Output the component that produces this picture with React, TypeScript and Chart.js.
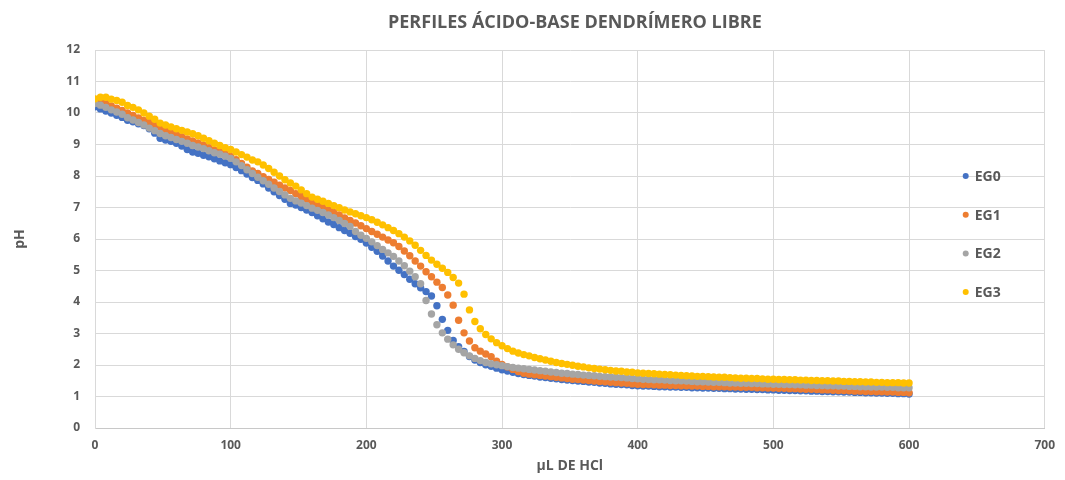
import { useEffect, useRef } from "react";
import { Chart, registerables } from "chart.js";

Chart.register(...registerables);

const FONT = "'Open Sans', sans-serif";
const TEXT_COLOR = "#595959";
const GRID_COLOR = "#D9D9D9";

const chartTitle = "PERFILES ÁCIDO-BASE DENDRÍMERO LIBRE";
const xTitle = "µL DE HCl";
const yTitle = "pH";

const seriesNames = ["EG0", "EG1", "EG2", "EG3"];
const seriesColors = ["#4472C4", "#ED7D31", "#A5A5A5", "#FFC000"];

// µL de HCl añadidos
const volumes = [
  0, 4, 8, 12, 16, 20, 24, 28, 32, 36,
  40, 44, 48, 52, 56, 60, 64, 68, 72, 76,
  80, 84, 88, 92, 96, 100, 104, 108, 112, 116,
  120, 124, 128, 132, 136, 140, 144, 148, 152, 156,
  160, 164, 168, 172, 176, 180, 184, 188, 192, 196,
  200, 204, 208, 212, 216, 220, 224, 228, 232, 236,
  240, 244, 248, 252, 256, 260, 264, 268, 272, 276,
  280, 284, 288, 292, 296, 300, 304, 308, 312, 316,
  320, 324, 328, 332, 336, 340, 344, 348, 352, 356,
  360, 364, 368, 372, 376, 380, 384, 388, 392, 396,
  400, 404, 408, 412, 416, 420, 424, 428, 432, 436,
  440, 444, 448, 452, 456, 460, 464, 468, 472, 476,
  480, 484, 488, 492, 496, 500, 504, 508, 512, 516,
  520, 524, 528, 532, 536, 540, 544, 548, 552, 556,
  560, 564, 568, 572, 576, 580, 584, 588, 592, 596,
  600,
];

const eg0 = [
  10.20, 10.13, 10.06, 10.00, 9.93, 9.86, 9.77, 9.72, 9.66, 9.60,
  9.50, 9.36, 9.20, 9.14, 9.10, 9.04, 8.95, 8.84, 8.76, 8.72,
  8.66, 8.61, 8.55, 8.48, 8.42, 8.36, 8.27, 8.17, 8.06, 7.95,
  7.86, 7.75, 7.62, 7.50, 7.38, 7.26, 7.13, 7.08, 7.00, 6.92,
  6.84, 6.74, 6.64, 6.54, 6.46, 6.36, 6.27, 6.18, 6.08, 5.99,
  5.87, 5.74, 5.61, 5.46, 5.30, 5.14, 5.01, 4.87, 4.72, 4.58,
  4.45, 4.33, 4.19, 3.88, 3.45, 3.10, 2.78, 2.58, 2.43, 2.27,
  2.16, 2.08, 2.01, 1.96, 1.90, 1.85, 1.81, 1.77, 1.73, 1.70,
  1.67, 1.65, 1.62, 1.60, 1.58, 1.56, 1.54, 1.52, 1.51, 1.49,
  1.48, 1.46, 1.45, 1.43, 1.42, 1.40, 1.39, 1.38, 1.37, 1.35,
  1.34, 1.33, 1.33, 1.32, 1.31, 1.31, 1.30, 1.30, 1.29, 1.29,
  1.28, 1.28, 1.27, 1.27, 1.26, 1.26, 1.25, 1.25, 1.24, 1.24,
  1.23, 1.23, 1.22, 1.22, 1.21, 1.21, 1.20, 1.20, 1.19, 1.19,
  1.18, 1.18, 1.17, 1.17, 1.16, 1.16, 1.15, 1.15, 1.14, 1.14,
  1.13, 1.13, 1.12, 1.12, 1.11, 1.11, 1.10, 1.10, 1.09, 1.09,
  1.08,
];

const eg1 = [
  10.40, 10.36, 10.30, 10.22, 10.15, 10.08, 10.00, 9.92, 9.84, 9.76,
  9.70, 9.63, 9.56, 9.48, 9.40, 9.33, 9.25, 9.18, 9.11, 9.05,
  8.98, 8.90, 8.83, 8.76, 8.70, 8.62, 8.52, 8.40, 8.28, 8.16,
  8.08, 7.98, 7.89, 7.80, 7.71, 7.62, 7.54, 7.44, 7.35, 7.26,
  7.17, 7.09, 7.00, 6.92, 6.84, 6.76, 6.67, 6.59, 6.51, 6.42,
  6.33, 6.24, 6.15, 6.06, 5.97, 5.88, 5.76, 5.62, 5.47, 5.30,
  5.14, 4.96, 4.80, 4.63, 4.46, 4.22, 3.90, 3.42, 3.02, 2.76,
  2.55, 2.44, 2.35, 2.26, 2.12, 2.02, 1.94, 1.86, 1.79, 1.74,
  1.71, 1.69, 1.67, 1.65, 1.63, 1.61, 1.59, 1.57, 1.55, 1.54,
  1.52, 1.51, 1.49, 1.48, 1.47, 1.45, 1.44, 1.43, 1.42, 1.40,
  1.39, 1.38, 1.38, 1.37, 1.36, 1.36, 1.35, 1.35, 1.34, 1.34,
  1.33, 1.33, 1.32, 1.32, 1.31, 1.31, 1.31, 1.30, 1.30, 1.29,
  1.29, 1.29, 1.28, 1.28, 1.27, 1.27, 1.26, 1.26, 1.25, 1.25,
  1.24, 1.23, 1.23, 1.22, 1.21, 1.21, 1.20, 1.19, 1.19, 1.18,
  1.17, 1.17, 1.16, 1.16, 1.15, 1.15, 1.14, 1.14, 1.13, 1.13,
  1.12,
];

const eg2 = [
  10.30, 10.25, 10.18, 10.10, 10.03, 9.96, 9.85, 9.78, 9.70, 9.62,
  9.52, 9.44, 9.35, 9.28, 9.22, 9.16, 9.10, 9.04, 8.97, 8.92,
  8.87, 8.80, 8.74, 8.69, 8.63, 8.56, 8.45, 8.33, 8.20, 8.08,
  7.96, 7.85, 7.74, 7.62, 7.51, 7.40, 7.29, 7.21, 7.14, 7.06,
  6.98, 6.91, 6.84, 6.76, 6.68, 6.59, 6.49, 6.40, 6.24, 6.12,
  6.02, 5.91, 5.79, 5.67, 5.56, 5.45, 5.30, 5.15, 4.98, 4.80,
  4.58, 4.05, 3.62, 3.28, 3.02, 2.82, 2.64, 2.50, 2.39, 2.29,
  2.21, 2.14, 2.08, 2.04, 2.01, 1.98, 1.95, 1.92, 1.90, 1.88,
  1.86, 1.84, 1.82, 1.80, 1.78, 1.76, 1.74, 1.73, 1.71, 1.70,
  1.68, 1.67, 1.66, 1.64, 1.63, 1.62, 1.61, 1.60, 1.59, 1.57,
  1.56, 1.55, 1.54, 1.53, 1.53, 1.52, 1.51, 1.50, 1.50, 1.49,
  1.48, 1.47, 1.47, 1.46, 1.45, 1.45, 1.44, 1.43, 1.43, 1.42,
  1.42, 1.41, 1.41, 1.40, 1.40, 1.39, 1.39, 1.38, 1.38, 1.37,
  1.37, 1.36, 1.36, 1.35, 1.35, 1.34, 1.34, 1.33, 1.33, 1.32,
  1.32, 1.31, 1.31, 1.30, 1.30, 1.30, 1.29, 1.29, 1.28, 1.28,
  1.28,
];

const eg3 = [
  10.45, 10.50, 10.50, 10.44, 10.40, 10.34, 10.24, 10.18, 10.10, 10.00,
  9.90, 9.80, 9.68, 9.62, 9.56, 9.50, 9.45, 9.40, 9.34, 9.28,
  9.20, 9.12, 9.04, 8.97, 8.90, 8.84, 8.76, 8.68, 8.60, 8.51,
  8.45, 8.35, 8.24, 8.12, 8.00, 7.88, 7.78, 7.68, 7.56, 7.44,
  7.33, 7.26, 7.20, 7.13, 7.06, 6.99, 6.92, 6.86, 6.80, 6.74,
  6.68, 6.61, 6.53, 6.45, 6.36, 6.27, 6.17, 6.06, 5.94, 5.80,
  5.64, 5.48, 5.33, 5.20, 5.07, 4.94, 4.78, 4.60, 4.25, 3.75,
  3.38, 3.15, 2.97, 2.83, 2.71, 2.61, 2.52, 2.44, 2.38, 2.33,
  2.29, 2.24, 2.20, 2.16, 2.12, 2.08, 2.05, 2.02, 1.99, 1.96,
  1.94, 1.91, 1.89, 1.87, 1.85, 1.83, 1.81, 1.80, 1.78, 1.77,
  1.75, 1.74, 1.73, 1.72, 1.71, 1.70, 1.69, 1.68, 1.67, 1.66,
  1.65, 1.64, 1.64, 1.63, 1.62, 1.61, 1.61, 1.60, 1.59, 1.58,
  1.58, 1.57, 1.57, 1.56, 1.55, 1.55, 1.54, 1.54, 1.53, 1.53,
  1.52, 1.52, 1.51, 1.51, 1.50, 1.50, 1.49, 1.49, 1.48, 1.48,
  1.47, 1.47, 1.46, 1.46, 1.45, 1.45, 1.44, 1.44, 1.44, 1.43,
  1.43,
];

const seriesValues = [eg0, eg1, eg2, eg3];

const overlayPlugin = {
  id: "overlay",
  afterDraw(chart: any) {
    const { ctx, chartArea } = chart;
    ctx.save();
    ctx.fillStyle = TEXT_COLOR;
    ctx.font = `bold 18px ${FONT}`;
    ctx.textAlign = "center";
    ctx.textBaseline = "middle";
    ctx.fillText(chartTitle, (chartArea.left + chartArea.right) / 2 + 5, 23);

    const lx = chartArea.right - 79;
    const ly0 = 176;
    const lgap = 38.7;
    seriesNames.forEach((name, i) => {
      const y = ly0 + i * lgap;
      ctx.beginPath();
      ctx.arc(lx, y, 3, 0, Math.PI * 2);
      ctx.fillStyle = seriesColors[i];
      ctx.fill();
      ctx.fillStyle = TEXT_COLOR;
      ctx.font = `bold 14px ${FONT}`;
      ctx.textAlign = "left";
      ctx.textBaseline = "middle";
      ctx.fillText(name, lx + 9, y + 1);
    });
    ctx.restore();
  },
};

export default function App() {
  const canvasRef = useRef<HTMLCanvasElement | null>(null);

  useEffect(() => {
    document.body.style.margin = "0";
    const canvas = canvasRef.current;
    if (!canvas) return;

    const datasets = seriesNames.map((name, i) => ({
      label: name,
      data: volumes.map((v, j) => ({ x: v, y: seriesValues[i][j] })),
      backgroundColor: seriesColors[i],
      borderColor: seriesColors[i],
      pointRadius: 3.7,
      pointBorderWidth: 0,
      showLine: false,
      order: 4 - i,
    }));

    const chart = new Chart(canvas, {
      type: "scatter",
      data: { datasets },
      options: {
        animation: false,
        responsive: false,
        devicePixelRatio: 1,
        events: [],
        layout: { padding: { top: 50, right: 15, bottom: 0, left: 0 } },
        plugins: {
          legend: { display: false },
          title: { display: false },
          tooltip: { enabled: false },
        },
        scales: {
          x: {
            type: "linear",
            min: 0,
            max: 700,
            ticks: {
              stepSize: 100,
              padding: 10,
              color: TEXT_COLOR,
              font: { family: FONT, size: 12, weight: "bold" },
            },
            grid: { color: GRID_COLOR, drawTicks: false },
            border: { color: "#C8C8C8" },
            title: {
              display: true,
              text: xTitle,
              color: TEXT_COLOR,
              font: { family: FONT, size: 14, weight: "bold" },
              padding: { top: 0, bottom: 6 },
            },
            afterFit: (scale: any) => {
              scale.height = 52;
            },
          },
          y: {
            type: "linear",
            min: 0,
            max: 12,
            ticks: {
              stepSize: 1,
              padding: 15,
              color: TEXT_COLOR,
              font: { family: FONT, size: 12, weight: "bold" },
            },
            grid: { color: GRID_COLOR, drawTicks: false },
            border: { color: GRID_COLOR },
            title: {
              display: true,
              text: yTitle,
              color: TEXT_COLOR,
              font: { family: FONT, size: 14, weight: "bold" },
              padding: { top: 12, bottom: 0 },
            },
            afterFit: (scale: any) => {
              scale.width = 95;
            },
          },
        },
      },
      plugins: [overlayPlugin],
    });

    return () => chart.destroy();
  }, []);

  return (
    <div style={{ width: 1065, height: 480 }}>
      <canvas ref={canvasRef} width={1065} height={480} />
    </div>
  );
}
